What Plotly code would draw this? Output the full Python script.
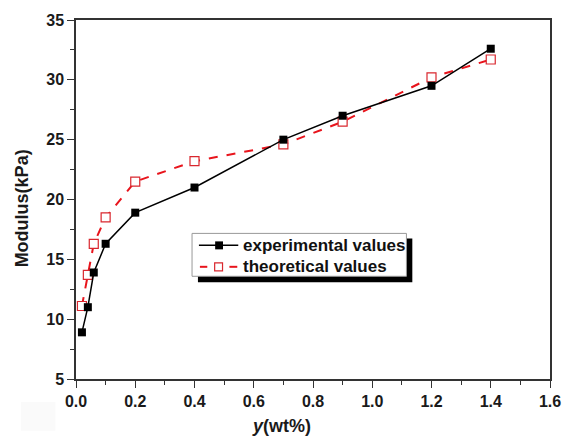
import plotly.graph_objects as go

x_vals = [0.02, 0.04, 0.06, 0.1, 0.2, 0.4, 0.7, 0.9, 1.2, 1.4]
experimental = [8.9, 11.0, 13.9, 16.3, 18.9, 21.0, 25.0, 27.0, 29.5, 32.6]
theoretical = [11.1, 13.7, 16.3, 18.5, 21.5, 23.2, 24.6, 26.5, 30.2, 31.7]
series_names = ["experimental values", "theoretical values"]
x_ticks = [0.0, 0.2, 0.4, 0.6, 0.8, 1.0, 1.2, 1.4, 1.6]
y_ticks = [5, 10, 15, 20, 25, 30, 35]

W, H = 573, 441
L, R, T, B = 76, 15, 19, 62
pw, ph = W - L - R, H - T - B

def px(xp):
    return (xp - L) / pw

def py(yp):
    return (H - B - yp) / ph

font_fam = "Arial"
RED = "#e8141c"

fig = go.Figure()
fig.add_trace(go.Scatter(
    x=x_vals, y=theoretical, mode="lines+markers", name=series_names[1],
    line=dict(color=RED, width=2, dash="dash"),
    marker=dict(symbol="square", size=9, color="white", line=dict(width=1.2, color="#d9272e")),
))
fig.add_trace(go.Scatter(
    x=x_vals, y=experimental, mode="lines+markers", name=series_names[0],
    line=dict(color="black", width=1.5),
    marker=dict(symbol="square", size=8, color="black"),
))

axis_common = dict(
    showgrid=False, zeroline=False, showline=True, linecolor="#333333", linewidth=1.5,
    mirror=True, ticks="outside", ticklen=7, tickwidth=1.2, tickcolor="#333333",
    tickfont=dict(family=font_fam, size=16, color="#1a1a1a", weight=700),
)

fig.update_xaxes(range=[0, 1.6], tickvals=x_ticks, ticktext=[f"{v:.1f}" for v in x_ticks],
                 minor=dict(dtick=0.1, ticks="outside", ticklen=4, tickcolor="#333333", tickwidth=1),
                 **axis_common)
fig.update_yaxes(range=[5, 35], tickvals=y_ticks, ticktext=[f"{v}" for v in y_ticks],
                 minor=dict(dtick=2.5, ticks="outside", ticklen=4, tickcolor="#333333", tickwidth=1),
                 **axis_common)

# manual legend (box with drop shadow)
def rect(x0, y0, x1, y1, fill, line_color=None, lw=0):
    return dict(type="rect", xref="paper", yref="paper",
                x0=px(x0), x1=px(x1), y0=py(y1), y1=py(y0),
                fillcolor=fill, line=dict(width=lw, color=line_color or fill), layer="above")

def seg(x0, y0, x1, y1, color, lw):
    return dict(type="line", xref="paper", yref="paper",
                x0=px(x0), x1=px(x1), y0=py(y0), y1=py(y1),
                line=dict(color=color, width=lw), layer="above")

row1, row2 = 245, 266.5
shapes = [
    rect(20, 402, 55, 431, "#fafafa"),
    rect(200, 238, 418, 282, "black"),
    rect(194, 233, 412, 276, "white", "#999999", 1),
    seg(201, row1, 241, row1, "black", 1.5),
    rect(217.5, row1 - 4, 225.5, row1 + 4, "black"),
    seg(202, row2, 209.5, row2, RED, 2),
    seg(232, row2, 240, row2, RED, 2),
    rect(217, row2 - 4, 225, row2 + 4, "white", "#d9272e", 1.2),
]
shapes[0]["layer"] = "below"

fig.update_layout(
    width=W, height=H,
    margin=dict(l=L, r=R, t=T, b=B),
    paper_bgcolor="white", plot_bgcolor="white",
    font=dict(family=font_fam, weight=700),
    showlegend=False,
    shapes=shapes,
    annotations=[
        dict(text=series_names[0], xref="paper", yref="paper", x=px(244), y=py(row1),
             xanchor="left", yanchor="middle", showarrow=False,
             font=dict(family=font_fam, size=17, color="#111111", weight=700)),
        dict(text=series_names[1], xref="paper", yref="paper", x=px(244), y=py(row2),
             xanchor="left", yanchor="middle", showarrow=False,
             font=dict(family=font_fam, size=17, color="#111111", weight=700)),
        dict(text="<i>y</i>(wt%)", xref="paper", yref="paper", x=px(285), y=py(426),
             xanchor="center", yanchor="middle", showarrow=False,
             font=dict(family=font_fam, size=18, color="#1a1a1a", weight=700)),
        dict(text="Modulus(kPa)", xref="paper", yref="paper", x=px(22), y=py(208),
             xanchor="center", yanchor="middle", showarrow=False, textangle=-90,
             font=dict(family=font_fam, size=18, color="#1a1a1a", weight=700)),
    ],
)

fig.write_html("out.html")
